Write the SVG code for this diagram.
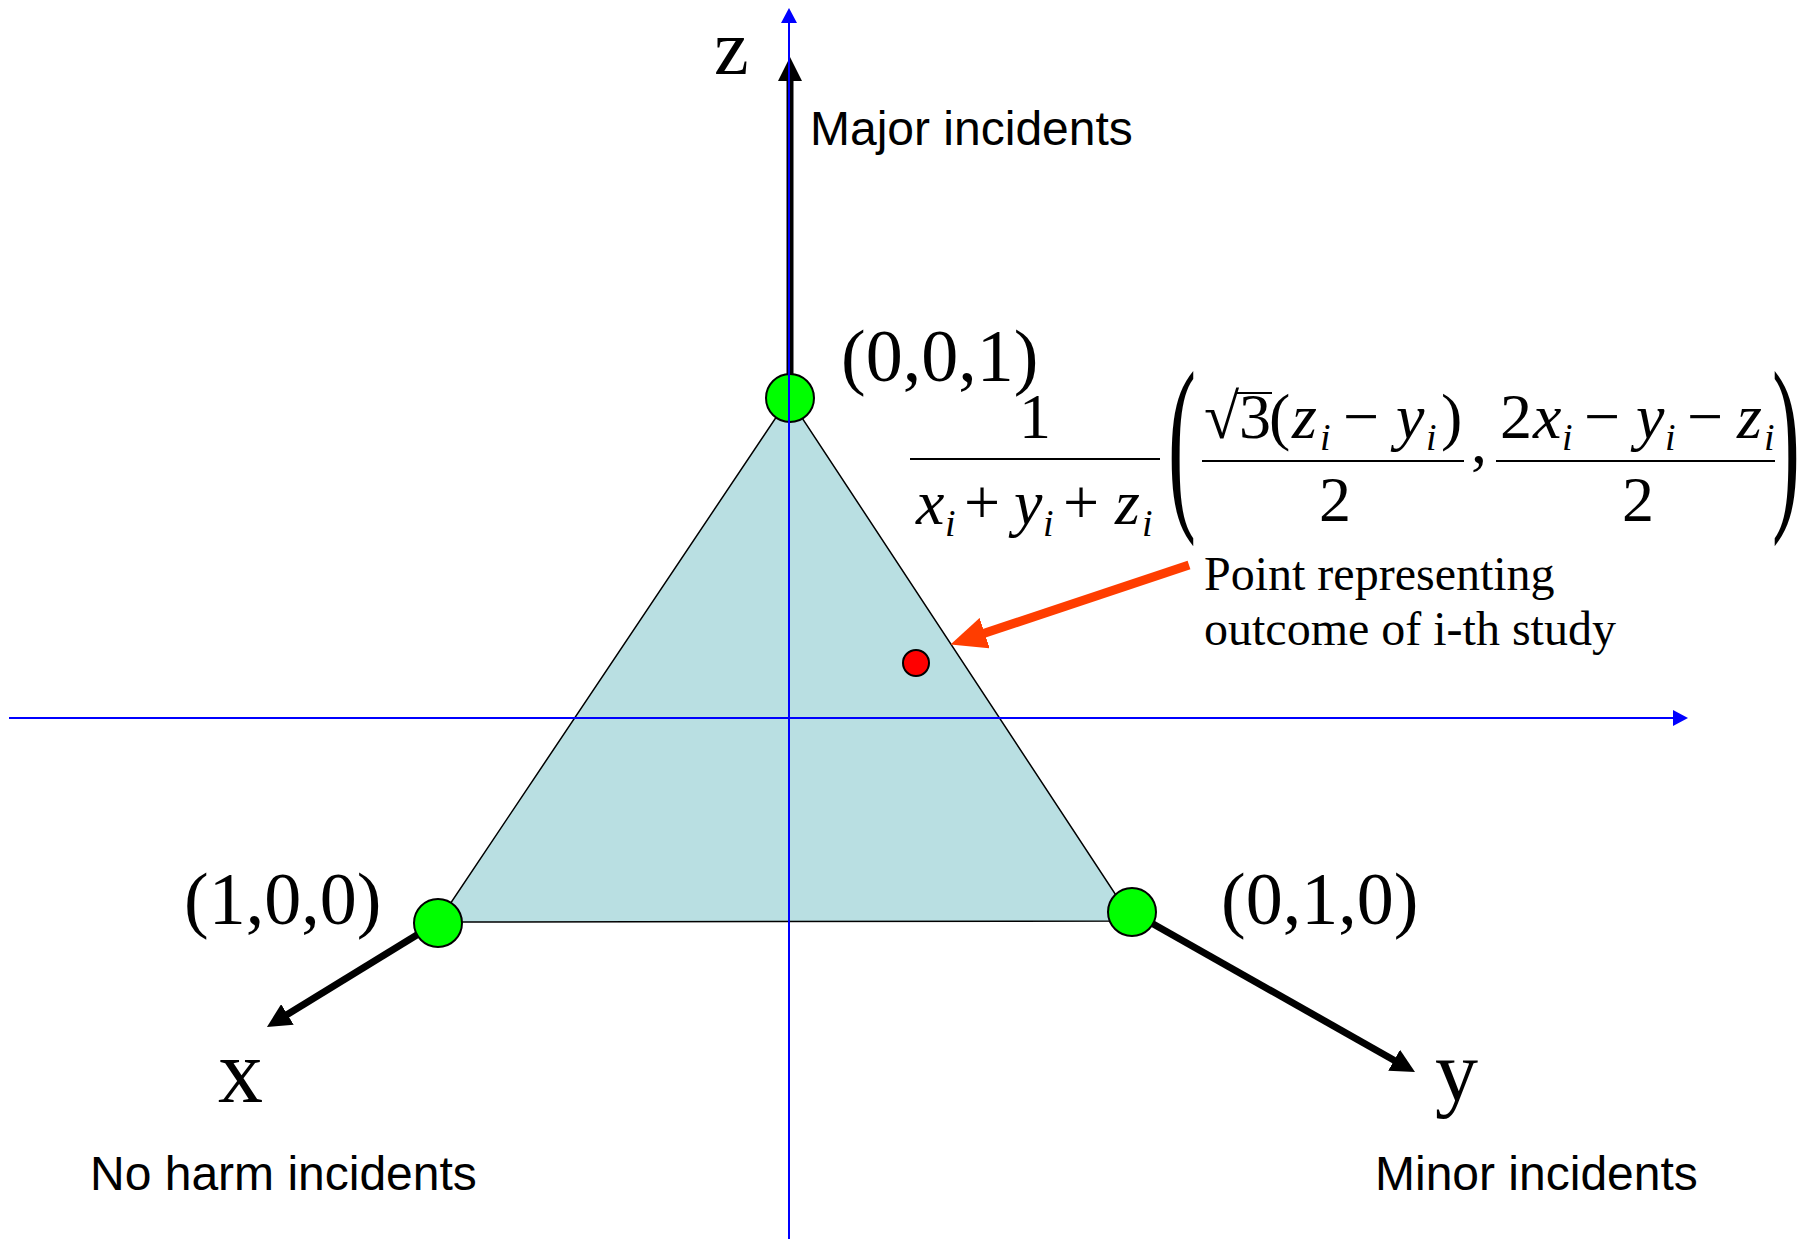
<svg xmlns="http://www.w3.org/2000/svg" width="1807" height="1239" viewBox="0 0 1807 1239">
<style>
.serif{font-family:"Liberation Serif","Times New Roman",serif;fill:#000}
.sans{font-family:"Liberation Sans",Arial,sans-serif;fill:#000}
.it{font-style:italic}
.sub{font-style:italic;font-size:38px}
.vertex{fill:#00FF00;stroke:#000;stroke-width:2}
.blue{stroke:#0000FF;stroke-width:2;fill:none}
.axis{stroke:#000;stroke-width:7;fill:none}
.bar{stroke:#000;stroke-width:2}
</style>
<defs>
<marker id="ah-black" markerUnits="userSpaceOnUse" markerWidth="24" markerHeight="24" refX="4" refY="12" orient="auto">
<path d="M0,0 L24,12 L0,24 z" fill="#000"/>
</marker>
<marker id="ah-blue" markerUnits="userSpaceOnUse" markerWidth="15" markerHeight="16" refX="3" refY="8" orient="auto">
<path d="M0,0 L15,8 L0,16 z" fill="#0000FF"/>
</marker>
<marker id="ah-red" markerUnits="userSpaceOnUse" markerWidth="36" markerHeight="32" refX="6" refY="16" orient="auto">
<path d="M0,0 L36,16 L0,32 z" fill="#FF3D00"/>
</marker>
</defs>
<rect width="1807" height="1239" fill="#fff"/>

<g id="triangle">
<polygon points="789,398 438,922 1133,921" fill="#B9DFE2" stroke="#000" stroke-width="1.5"/>
</g>

<g id="study-point">
<circle cx="916" cy="663" r="13" fill="#FF0000" stroke="#000" stroke-width="2"/>
</g>

<g id="connectors">
<line x1="1189" y1="565" x2="979" y2="635" stroke="#FF3D00" stroke-width="9" marker-end="url(#ah-red)"/>
<line class="axis" x1="790" y1="374" x2="790" y2="77" marker-end="url(#ah-black)"/>
<line class="axis" x1="438" y1="922" x2="284" y2="1016.5" marker-end="url(#ah-black)"/>
<line class="axis" x1="1132" y1="912" x2="1397.6" y2="1062.2" marker-end="url(#ah-black)"/>
</g>

<g id="vertex-001"><circle class="vertex" cx="790" cy="398" r="24"/></g>
<g id="vertex-100"><circle class="vertex" cx="438" cy="923" r="24"/></g>
<g id="vertex-010"><circle class="vertex" cx="1132" cy="912" r="24"/></g>

<g id="blue-axes">
<line class="blue" x1="789" y1="1239" x2="789" y2="20" marker-end="url(#ah-blue)"/>
<line class="blue" x1="9" y1="718" x2="1676" y2="718" marker-end="url(#ah-blue)"/>
</g>

<g id="labels">
<text class="serif" x="714" y="74" font-size="78">z</text>
<text class="serif" x="218" y="1102" font-size="90">x</text>
<text class="serif" x="1435" y="1100" font-size="86">y</text>
<text class="sans" x="810" y="145" font-size="48">Major incidents</text>
<text class="sans" x="90" y="1190" font-size="48">No harm incidents</text>
<text class="sans" x="1375" y="1190" font-size="48">Minor incidents</text>
<text class="serif" x="841" y="381" font-size="74">(0,0,1)</text>
<text class="serif" x="184" y="924" font-size="74">(1,0,0)</text>
<text class="serif" x="1221" y="924" font-size="74">(0,1,0)</text>
<text class="serif" x="1204" y="590" font-size="48">Point representing</text>
<text class="serif" x="1204" y="645" font-size="48">outcome of i-th study</text>
</g>

<g id="formula" class="serif" font-size="64">
<text x="1035" y="438" text-anchor="middle">1</text>
<line class="bar" x1="910" y1="459" x2="1160" y2="459"/>
<text y="524"><tspan x="916" class="it">x</tspan><tspan x="945" dy="12" class="sub">i</tspan><tspan x="964" dy="-12">+</tspan><tspan x="1014" class="it">y</tspan><tspan x="1043" dy="12" class="sub">i</tspan><tspan x="1063" dy="-12">+</tspan><tspan x="1115" class="it">z</tspan><tspan x="1142" dy="12" class="sub">i</tspan></text>

<text transform="translate(1168,505) scale(1.05,2.4)" font-size="80">(</text>
<text transform="translate(1772,505) scale(1.05,2.4)" font-size="80">)</text>

<text y="438"><tspan x="1204">√</tspan><tspan x="1239">3</tspan><tspan x="1269">(</tspan><tspan x="1292" class="it">z</tspan><tspan x="1320" dy="12" class="sub">i</tspan><tspan x="1343" dy="-12">−</tspan><tspan x="1396" class="it">y</tspan><tspan x="1426" dy="12" class="sub">i</tspan><tspan x="1441" dy="-12">)</tspan></text>
<line class="bar" x1="1236" y1="393" x2="1272" y2="393"/>
<line class="bar" x1="1202" y1="461" x2="1464" y2="461"/>
<text x="1319" y="521">2</text>
<text x="1471" y="463">,</text>

<text y="438"><tspan x="1500">2</tspan><tspan x="1533" class="it">x</tspan><tspan x="1562" dy="12" class="sub">i</tspan><tspan x="1584" dy="-12">−</tspan><tspan x="1636" class="it">y</tspan><tspan x="1665" dy="12" class="sub">i</tspan><tspan x="1687" dy="-12">−</tspan><tspan x="1737" class="it">z</tspan><tspan x="1764" dy="12" class="sub">i</tspan></text>
<line class="bar" x1="1496" y1="461" x2="1775" y2="461"/>
<text x="1622" y="521">2</text>
</g>
</svg>
